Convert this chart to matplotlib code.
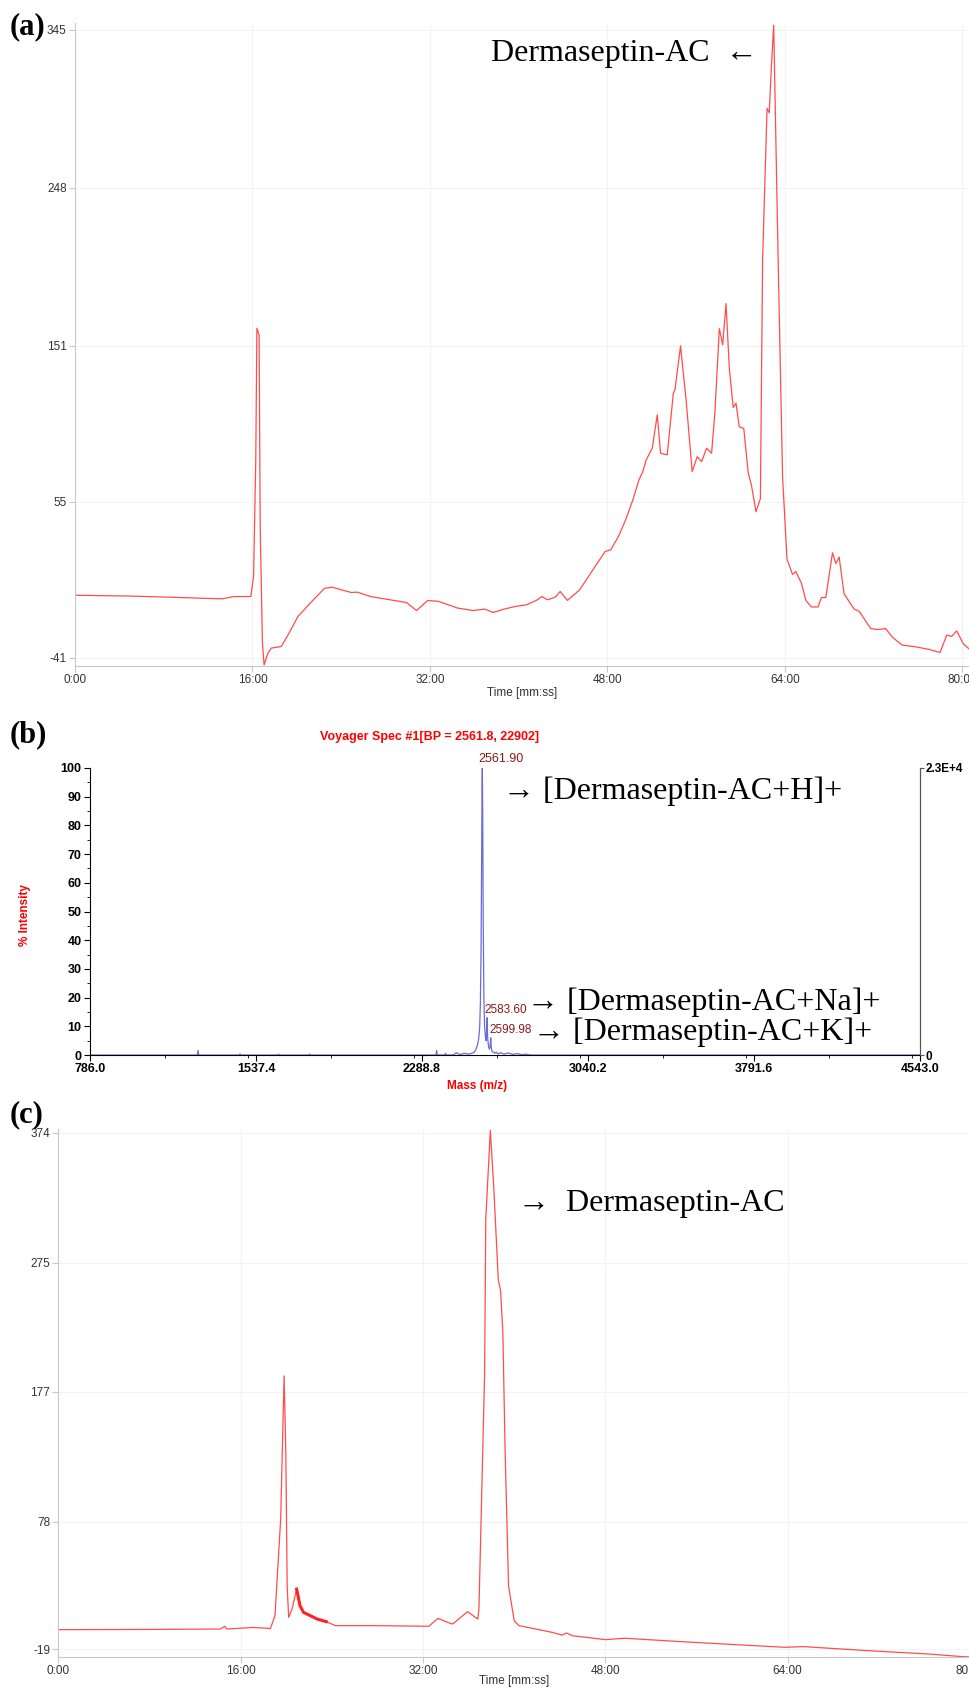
import matplotlib.pyplot as plt
from matplotlib.ticker import MultipleLocator

plt.rcParams['axes.unicode_minus'] = False

# (a) crude extract chromatogram, time in min, absorbance in mAU
time_a = [0, 5, 10, 11.2, 13.3, 14.3, 15.85, 16.1, 16.3, 16.4, 16.6, 16.7, 16.9, 17.05,
          17.4, 17.7, 18.6, 19.3, 20.1, 21.2, 22.5, 23.2, 24.9, 25.45, 26.65, 29.9, 30.8,
          31.8, 32.8, 34.5, 35.9, 36.95, 37.7, 38.7, 39.7, 40.7, 41.6, 42.1, 42.6, 43.3,
          43.75, 44.4, 45.5, 46.9, 47.8, 48.3, 49.0, 49.65, 50.3, 50.85, 51.2, 51.5, 52.05,
          52.5, 52.8, 53.4, 53.95, 54.1, 54.6, 55.1, 55.65, 56.1, 56.5, 56.95, 57.4, 57.7,
          58.1, 58.4, 58.7, 59.0, 59.35, 59.6, 59.9, 60.3, 60.7, 61.0, 61.4, 61.8, 62.0,
          62.4, 62.6, 62.8, 63.0, 63.4, 63.8, 64.2, 64.7, 65.0, 65.5, 65.9, 66.4, 67.0,
          67.3, 67.7, 68.3, 68.6, 68.9, 69.35, 70.25, 70.7, 71.75, 72.35, 73.1, 73.7, 74.6,
          75.8, 77.0, 78.0, 78.6, 79.05, 79.5, 80.1, 80.7]
signal_a = [-2.5, -3, -4, -4.3, -4.7, -3.3, -3.3, 9.0, 80.7, 161.6, 157.5, 39.7, -32, -45.3,
            -38.1, -35, -34, -25.8, -15.6, -7.4, 1.8, 2.4, -0.8, -0.6, -3.3, -7, -11.9,
            -5.7, -6.3, -10.4, -11.9, -11, -13.1, -11, -9.4, -8.4, -5.7, -3.3, -5.3, -3.7,
            -0.2, -5.7, 0.8, 15.2, 24.4, 25.4, 33.6, 43.8, 56.1, 68.4, 73.5, 80.7, 87.9,
            108.4, 84.8, 83.8, 121.7, 123.8, 150.8, 117.6, 73.5, 82.7, 79.6, 87.9, 84.8, 110.2,
            161.4, 151.5, 176.8, 136.9, 112.9, 115.6, 101, 100.1, 72.9, 64.9, 48.9, 56.9, 203.5,
            296.8, 294.1, 323.5, 348, 203.5, 70.3, 19.6, 10.3, 12.1, 4.9, -5.7, -9.7, -9.7,
            -3.9, -3.9, 23.6, 17, 21, -1.7, -11, -12.3, -23, -23.6, -23, -28.3, -33.2,
            -34.2, -35.8, -37.7, -27, -27.8, -24.4, -32.4, -36]
yticks_a = [345, 248, 151, 55, -41]

# (b) MALDI-TOF spectrum, m/z and % intensity
mz_b = [786, 1272, 1275, 1278, 1462, 1465, 1468, 1637, 1640, 1643, 1777, 1780, 1783,
        2352, 2355, 2358, 2392, 2395, 2398, 2430, 2445, 2460, 2480, 2500, 2515, 2525, 2533,
        2540, 2546, 2550, 2553, 2556, 2558.5, 2560.5, 2561.9, 2563.5, 2566, 2569, 2572, 2576,
        2579, 2581, 2583.6, 2586, 2590, 2594, 2597, 2599.98, 2602.5, 2606, 2612, 2618, 2625,
        2632, 2645, 2660, 2680, 2700, 2720, 2740, 2760, 2780, 4543]
intensity_b = [0, 0, 1.6, 0, 0, 0.4, 0, 0, 0.3, 0, 0, 0.3, 0,
               0, 1.6, 0, 0, 0.6, 0, 0, 0.8, 0.1, 0.6, 0.3, 0.6, 1.0, 2.0,
               3.5, 6, 10, 18, 35, 65, 92, 100, 85, 45, 20, 10, 6,
               5, 8, 13, 6, 3, 2, 3, 6, 2.5, 1.2, 1.0, 0.6, 1.0,
               0.4, 0.8, 0.3, 0.7, 0.2, 0.5, 0.1, 0.3, 0, 0]
xticks_b = [786.0, 1537.4, 2288.8, 3040.2, 3791.6, 4543.0]

# (c) purified peptide chromatogram
time_c = [0, 8, 14.2, 14.6, 14.75, 17.1, 18.6, 19.0, 19.5, 19.8, 19.95, 20.07, 20.2, 20.5,
          20.9, 21.2, 21.5, 22.7, 23.5, 24.3, 27.3, 32.5, 33.3, 34.3, 34.6, 35.9, 36.8, 36.9,
          37.4, 37.5, 37.9, 38.2, 38.6, 38.8, 39.0, 39.2, 39.5, 40.0, 40.4, 41.9, 43.3, 44.2,
          44.6, 45.1, 46.3, 48.0, 49.7, 54.6, 63.7, 65.4, 70.9, 76.3, 79.3, 80.0]
signal_c = [-4.2, -4.0, -3.7, -1.6, -3.7, -2.5, -3.3, 6.4, 79.9, 189, 131, 29, 5.2, 11.5,
            26.7, 14, 9, 3.9, 1.9, -1.1, -1.1, -1.6, 4.4, 0.9, 0.1, 9.5, 3.9, 11.5,
            191, 308, 376, 333, 262, 254, 221.8, 131, 29, 2.6, -1.1, -3.7, -6.2, -8.3,
            -6.7, -8.8, -10, -11.8, -10.7, -13.3, -17.6, -17.1, -20.1, -22.7, -24.7, -25]
yticks_c = [374, 275, 177, 78, -19]

time_ticks = [0, 16, 32, 48, 64, 80]
time_labels = ['0:00', '16:00', '32:00', '48:00', '64:00', '80:00']

narrow = ['Liberation Sans Narrow', 'Liberation Sans', 'DejaVu Sans']
serif = ['Liberation Serif', 'DejaVu Serif']
W, H = 970, 1689

fig = plt.figure(figsize=(W / 100, H / 100), dpi=100)


def box(l, t, r, b):
    return [l / W, 1 - b / H, (r - l) / W, (b - t) / H]


def put(x, y, s, **kw):
    fig.text(x / W, 1 - y / H, s, **kw)


def style_chrom(ax, yticks):
    for side in ['top', 'right']:
        ax.spines[side].set_visible(False)
    for side in ['left', 'bottom']:
        ax.spines[side].set_color('#c8c8c8')
    ax.set_xticks(time_ticks)
    ax.set_xticklabels(time_labels)
    ax.set_yticks(yticks)
    ax.grid(True, color='#f3f3f3', linewidth=0.8)
    ax.tick_params(colors='#c8c8c8', labelcolor='#333333', length=4, width=0.8, pad=2)
    for lab in ax.get_xticklabels() + ax.get_yticklabels():
        lab.set_family(narrow)
        lab.set_fontsize(8.5)


# ---- (a)
ax_a = fig.add_axes(box(75, 23, 970, 666))
ax_a.plot(time_a, signal_a, color='#ff4c4c', linewidth=0.9)
ax_a.set_xlim(0, 80.7)
ax_a.set_ylim(-46, 349.3)
style_chrom(ax_a, yticks_a)
put(522, 693, 'Time [mm:ss]', family=narrow, fontsize=8.5, color='#333333',
    ha='center', va='center')
put(758, 54, 'Dermaseptin-AC  \u2190', family=serif, fontsize=23, ha='right', va='center')

# ---- (b)
ax_b = fig.add_axes(box(90, 768, 920, 1055))
ax_b.plot(mz_b, intensity_b, color='#6b6bd6', linewidth=0.9)
ax_b.set_xlim(786, 4543)
ax_b.set_ylim(0, 100)
ax_b.spines['top'].set_visible(False)
ax_b.spines['right'].set_color('#555555')
ax_b.set_xticks(xticks_b)
ax_b.set_xticklabels(['%.1f' % v for v in xticks_b])
ax_b.xaxis.set_minor_locator(MultipleLocator(751.4 / 2))
ax_b.set_yticks(range(0, 101, 10))
ax_b.yaxis.set_minor_locator(MultipleLocator(5))
ax_b.tick_params(length=4, width=0.8, pad=2, labelsize=9)
ax_b.tick_params(which='minor', length=2, width=0.6)
for lab in ax_b.get_xticklabels() + ax_b.get_yticklabels():
    lab.set_family(narrow)
    lab.set_fontweight('bold')
ax_b2 = ax_b.twinx()
ax_b2.set_ylim(0, 1)
ax_b2.set_yticks([0, 1])
ax_b2.set_yticklabels(['0', '2.3E+4'], family=narrow, fontweight='bold', fontsize=8.5)
ax_b2.tick_params(length=3, width=0.8, pad=1, color='#555555')
for side in ['top', 'left', 'bottom']:
    ax_b2.spines[side].set_visible(False)
ax_b2.spines['right'].set_color('#555555')

put(430, 737, 'Voyager Spec #1[BP = 2561.8, 22902]', family=narrow, fontsize=9,
    fontweight='bold', color='#ff0000', ha='center', va='center')
put(25, 915, '% Intensity', family=narrow, fontsize=8.5, fontweight='bold', color='#ff0000',
    rotation=90, ha='center', va='center')
put(477, 1086, 'Mass (m/z)', family=narrow, fontsize=8.5, fontweight='bold', color='#ff0000',
    ha='center', va='center')
put(478, 759, '2561.90', family=narrow, fontsize=9, color='#8b1a1a', ha='left', va='center')
put(484, 1010, '2583.60', family=narrow, fontsize=8.5, color='#8b1a1a', ha='left', va='center')
put(489, 1030, '2599.98', family=narrow, fontsize=8.5, color='#8b1a1a', ha='left', va='center')
put(503, 791, '\u2192 [Dermaseptin-AC+H]+', family=serif, fontsize=23, va='center')
put(527, 1002, '\u2192 [Dermaseptin-AC+Na]+', family=serif, fontsize=23, va='center')
put(533, 1032, '\u2192 [Dermaseptin-AC+K]+', family=serif, fontsize=23, va='center')

# ---- (c)
ax_c = fig.add_axes(box(58.5, 1129, 970, 1657))
ax_c.plot(time_c, signal_c, color='#ff4c4c', linewidth=0.9)
# noisy thick band after the first peak
ax_c.plot(time_c[14:19], signal_c[14:19], color='#ff2020', linewidth=2.2)
ax_c.set_xlim(0, 80.0)
ax_c.set_ylim(-25, 377)
style_chrom(ax_c, yticks_c)
put(514, 1681, 'Time [mm:ss]', family=narrow, fontsize=8.5, color='#333333',
    ha='center', va='center')
put(518, 1203, '\u2192  Dermaseptin-AC', family=serif, fontsize=23, va='center')

# panel letters
put(28, 27, '(a)', family=serif, fontsize=22, fontweight='bold', ha='center', va='center')
put(28, 735, '(b)', family=serif, fontsize=22, fontweight='bold', ha='center', va='center')
put(27, 1115, '(c)', family=serif, fontsize=22, fontweight='bold', ha='center', va='center')

plt.savefig('out.png', dpi=100)
